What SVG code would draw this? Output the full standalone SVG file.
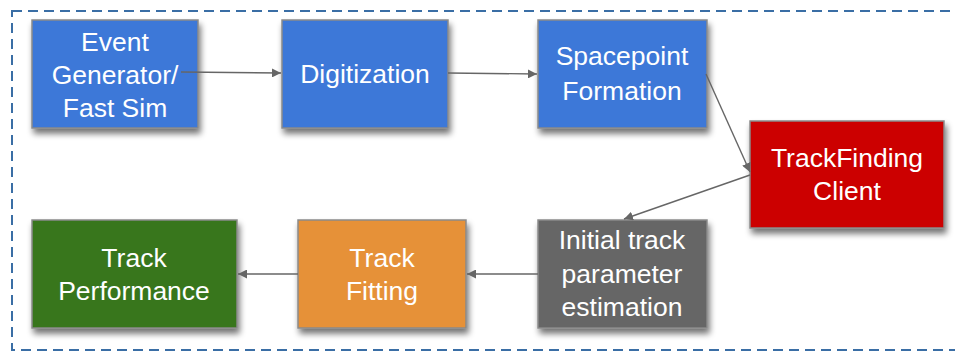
<svg xmlns="http://www.w3.org/2000/svg" width="955" height="355" viewBox="0 0 955 355">
<defs>
<filter id="sh" x="-10%" y="-10%" width="125%" height="140%">
<feGaussianBlur in="SourceAlpha" stdDeviation="3"/>
<feOffset dx="2" dy="5" result="b"/>
<feComponentTransfer><feFuncA type="linear" slope="0.55"/></feComponentTransfer>
<feMerge><feMergeNode/><feMergeNode in="SourceGraphic"/></feMerge>
</filter>
<marker id="ah" viewBox="0 0 10 10" refX="10" refY="5" markerWidth="9" markerHeight="9" markerUnits="userSpaceOnUse" orient="auto">
<path d="M0,0 L10,5 L0,10 z" fill="#666"/>
</marker>
</defs>
<style>
.box{stroke:#8a8a8a;stroke-width:1.5;filter:url(#sh)}
.t{font-family:"Liberation Sans",Arial,sans-serif;font-size:26.5px;fill:#fff;text-anchor:middle}
.c{stroke:#666;stroke-width:1.4;fill:none;marker-end:url(#ah)}
</style>
<rect x="12" y="11" width="960" height="339" fill="none" stroke="#3a6ea5" stroke-width="2" stroke-dasharray="10,6"/>
<g id="n1"><rect class="box" x="32" y="20" width="166" height="108" fill="#3c78d8"/>
<text class="t" x="115" y="51">Event</text><text class="t" x="115" y="84">Generator/</text><text class="t" x="115" y="117">Fast Sim</text></g>
<g id="n2"><rect class="box" x="282" y="20" width="166" height="108" fill="#3c78d8"/>
<text class="t" x="365" y="83">Digitization</text></g>
<g id="n3"><rect class="box" x="538" y="20" width="169" height="108" fill="#3c78d8"/>
<text class="t" x="622" y="65">Spacepoint</text><text class="t" x="622" y="100">Formation</text></g>
<g id="n4"><rect class="box" x="750" y="121" width="194" height="107" fill="#cc0000"/>
<text class="t" x="847" y="167">TrackFinding</text><text class="t" x="847" y="200">Client</text></g>
<g id="n5"><rect class="box" x="538" y="220" width="169" height="108" fill="#666666"/>
<text class="t" x="622" y="249">Initial track</text><text class="t" x="622" y="283">parameter</text><text class="t" x="622" y="316">estimation</text></g>
<g id="n6"><rect class="box" x="298" y="220" width="168" height="108" fill="#e69138"/>
<text class="t" x="382" y="267">Track</text><text class="t" x="382" y="300">Fitting</text></g>
<g id="n7"><rect class="box" x="32" y="220" width="205" height="108" fill="#38761d"/>
<text class="t" x="134" y="267">Track</text><text class="t" x="134" y="300">Performance</text></g>
<g id="connectors">
<line class="c" x1="181" y1="72" x2="281" y2="73"/>
<line class="c" x1="448" y1="73" x2="537" y2="74"/>
<line class="c" x1="706" y1="74" x2="750" y2="172"/>
<line class="c" x1="750" y1="175" x2="624" y2="219"/>
<line class="c" x1="538" y1="274" x2="467" y2="274"/>
<line class="c" x1="298" y1="274" x2="238" y2="274"/>
</g>
</svg>
